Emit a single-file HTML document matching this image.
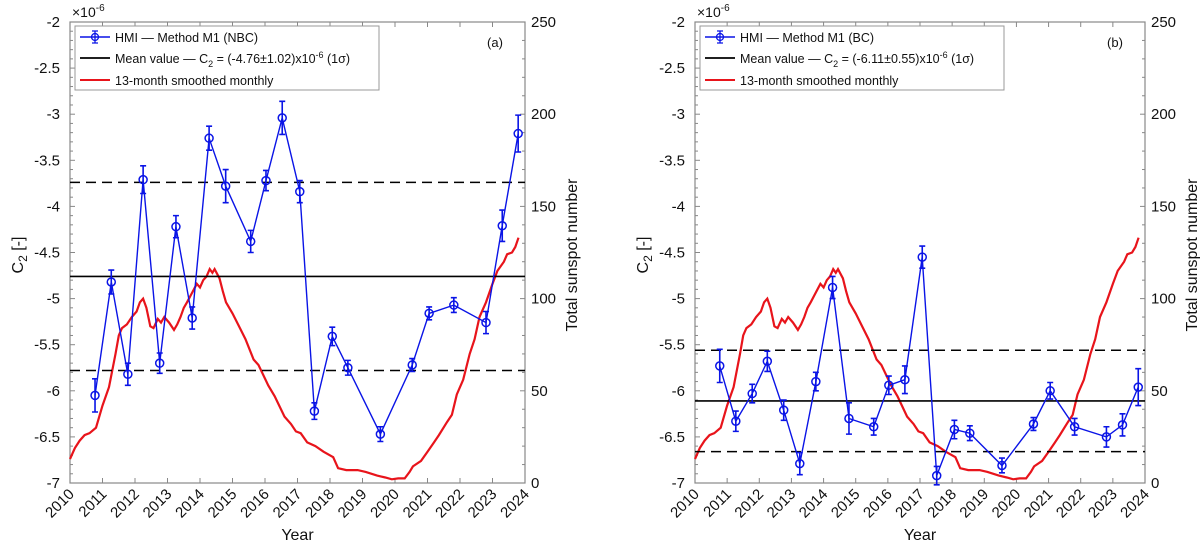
<!DOCTYPE html>
<html><head><meta charset="utf-8"><style>
body{margin:0;background:#fff}
svg{display:block;font-family:"Liberation Sans",Arial,sans-serif}
</style></head><body>
<svg id="chart" width="1200" height="545" viewBox="0 0 1200 545" xmlns="http://www.w3.org/2000/svg"></svg>
<script>
const years = [2010.77,2011.27,2011.78,2012.25,2012.76,2013.26,2013.76,2014.28,2014.79,2015.56,2016.03,2016.53,2017.07,2017.52,2018.07,2018.55,2019.55,2020.53,2021.05,2021.81,2022.8,2023.3,2023.79];
const c2NBC = [-6.05,-4.82,-5.82,-3.71,-5.70,-4.22,-5.21,-3.26,-3.78,-4.38,-3.72,-3.04,-3.84,-6.22,-5.41,-5.75,-6.47,-5.72,-5.16,-5.07,-5.26,-4.21,-3.21];
const errNBC = [0.18,0.13,0.12,0.15,0.11,0.12,0.12,0.13,0.18,0.12,0.11,0.18,0.12,0.09,0.10,0.08,0.08,0.07,0.07,0.08,0.12,0.17,0.20];
const c2BC = [-5.73,-6.33,-6.03,-5.68,-6.21,-6.79,-5.90,-4.88,-6.30,-6.39,-5.94,-5.88,-4.55,-6.92,-6.42,-6.46,-6.81,-6.36,-6.00,-6.39,-6.50,-6.37,-5.96];
const errBC = [0.18,0.11,0.10,0.11,0.11,0.12,0.10,0.12,0.17,0.09,0.10,0.15,0.12,0.10,0.10,0.08,0.08,0.07,0.09,0.09,0.11,0.12,0.20];
const meanNBC = -4.76, sdNBC = 1.02;
const meanBC = -6.11, sdBC = 0.55;
const ssnYears = [2010.0,2010.15,2010.3,2010.45,2010.6,2010.8,2011.0,2011.2,2011.4,2011.5,2011.6,2011.75,2011.9,2012.05,2012.15,2012.25,2012.35,2012.47,2012.57,2012.7,2012.8,2012.9,2013.05,2013.2,2013.3,2013.4,2013.5,2013.6,2013.75,2013.9,2014.0,2014.1,2014.2,2014.3,2014.38,2014.45,2014.6,2014.7,2014.8,2015.0,2015.2,2015.4,2015.65,2015.8,2016.1,2016.3,2016.6,2016.8,2016.95,2017.1,2017.3,2017.55,2017.8,2018.1,2018.25,2018.5,2018.85,2019.1,2019.45,2019.7,2019.9,2020.1,2020.3,2020.45,2020.55,2020.8,2021.0,2021.2,2021.35,2021.6,2021.75,2021.9,2022.1,2022.3,2022.45,2022.6,2022.8,2023.0,2023.15,2023.35,2023.45,2023.6,2023.7,2023.8];
const ssn = [13,19,23,26,27,30,42,52,70,80,84,86,90,93,98,100,95,85,84,89,87,90,87,83,86,90,95,98,103,108,106,110,112,116,114,116,111,104,98,92,85,78,67,64,53,47,36,32,28,27,22,20,17,14,8,7,7,6,4,3,2,2.5,2.5,6,9,12,17,22,26,33,37,48,56,70,78,90,98,108,115,120,124,125,128,133];
const yTicks = [-2,-2.5,-3,-3.5,-4,-4.5,-5,-5.5,-6,-6.5,-7];
const ssnTicks = [0,50,100,150,200,250];
const xTicks = [2010,2011,2012,2013,2014,2015,2016,2017,2018,2019,2020,2021,2022,2023,2024];

const svg = document.getElementById('chart');
const NS = 'http://www.w3.org/2000/svg';
function mk(tag, attrs, parent, text){
  const e = document.createElementNS(NS, tag);
  for (const k in attrs) e.setAttribute(k, attrs[k]);
  if (text !== undefined) e.textContent = text;
  (parent||svg).appendChild(e);
  return e;
}

function panel(x0, x1, vals, errs, mean, sd, tag, label){
  const top = 22, bot = 483;
  const X = y => x0 + (y - 2010) / 14 * (x1 - x0);
  const Y = v => top + (-2 - v) / 5 * (bot - top);
  const YS = s => bot - s / 250 * (bot - top);
  const g = mk('g', {});
  
  
  const box = mk('rect', {x:x0, y:top, width:x1-x0, height:bot-top, fill:'none', stroke:'#888', 'stroke-width':1.2}, g);
  
  
  for (let v = -2; v >= -7.001; v -= 0.1) {
    const yy = Y(v);
    const major = Math.abs(v*2 - Math.round(v*2)) < 1e-6;
    mk('line', {x1:x0, x2:x0+(major?5:3), y1:yy, y2:yy, stroke:'#888'}, g);
  }
  yTicks.forEach(v => {
    const t = mk('text', {x:x0-10, y:Y(v)+5, 'text-anchor':'end', 'font-size':15, fill:'#111'}, g, String(v));
    
    
  });
  for (let s = 0; s <= 250; s += 10) {
    const yy = YS(s);
    mk('line', {x1:x1, x2:x1-(s%50===0?5:3), y1:yy, y2:yy, stroke:'#888'}, g);
  }
  ssnTicks.forEach(s => {
    const t = mk('text', {x:x1+6, y:YS(s)+5, 'font-size':15, fill:'#111'}, g, String(s));
    
    
  });
  xTicks.forEach(yr => {
    const xx = X(yr);
    mk('line', {x1:xx, x2:xx, y1:bot, y2:bot-5, stroke:'#888'}, g);
    mk('line', {x1:xx, x2:xx, y1:top, y2:top+5, stroke:'#888'}, g);
    const t = mk('text', {x:xx+5, y:bot+12, 'text-anchor':'end', 'font-size':15, fill:'#111', transform:`rotate(-45 ${xx+5} ${bot+12})`}, g, String(yr));
    
    
  });
  const xt = mk('text', {x:(x0+x1)/2, y:540, 'text-anchor':'middle', 'font-size':16, fill:'#111'}, g, 'Year');
  
  
  const yt = mk('text', {x:0, y:0, 'text-anchor':'middle', 'font-size':16, fill:'#111', transform:`translate(${x0-47},255) rotate(-90)`}, g);
  
  
  mk('tspan', {}, yt, 'C');
  mk('tspan', {dy:4, 'font-size':12}, yt, '2');
  mk('tspan', {dy:-4}, yt, ' [-]');
  const rt = mk('text', {x:0, y:0, 'text-anchor':'middle', 'font-size':16, fill:'#111', transform:`translate(${x1+52},255) rotate(-90)`}, g, 'Total sunspot number');
  
  
  const ex = mk('text', {x:x0+2, y:17, 'font-size':14, fill:'#111'}, g);
  
  
  mk('tspan', {}, ex, '×10');
  mk('tspan', {dy:-6, 'font-size':10}, ex, '-6');
  const rp = ssnYears.map((yr,i) => `${i?'L':'M'}${X(yr).toFixed(1)},${YS(ssn[i]).toFixed(1)}`).join('');
  const red = mk('path', {d:rp, fill:'none', stroke:'#e8141b', 'stroke-width':2.2}, g);
  
  
  const ml = mk('line', {x1:x0, x2:x1, y1:Y(mean), y2:Y(mean), stroke:'#000', 'stroke-width':1.6}, g);
  
  
  [mean+sd, mean-sd].forEach(v => {
    const d = mk('line', {x1:x0, x2:x1, y1:Y(v), y2:Y(v), stroke:'#000', 'stroke-width':1.5, 'stroke-dasharray':'10,6'}, g);
    
    
  });
  const bp = years.map((yr,i) => `${i?'L':'M'}${X(yr).toFixed(1)},${Y(vals[i]).toFixed(1)}`).join('');
  const bl = mk('path', {d:bp, fill:'none', stroke:'#0a14e6', 'stroke-width':1.4}, g);
  
  
  years.forEach((yr,i) => {
    const xx = X(yr), yy = Y(vals[i]), y1 = Y(vals[i]+errs[i]), y2 = Y(vals[i]-errs[i]);
    const eb = mk('path', {d:`M${xx},${y1}L${xx},${y2}M${xx-3},${y1}L${xx+3},${y1}M${xx-3},${y2}L${xx+3},${y2}`, stroke:'#0a14e6', 'stroke-width':1.6, fill:'none'}, g);
    
    
    const c = mk('circle', {cx:xx, cy:yy, r:4, fill:'none', stroke:'#0a14e6', 'stroke-width':1.5}, g);
    
    
  });
  const lg = mk('g', {}, g);
  
  
  mk('rect', {x:x0+5, y:26, width:304, height:64, fill:'#fff', stroke:'#999', 'stroke-width':1}, lg);
  const lx = x0+10;
  mk('line', {x1:lx, x2:lx+30, y1:37, y2:37, stroke:'#0a14e6', 'stroke-width':1.4}, lg);
  mk('circle', {cx:lx+15, cy:37, r:3.5, fill:'none', stroke:'#0a14e6', 'stroke-width':1.3}, lg);
  mk('path', {d:`M${lx+15},31L${lx+15},43M${lx+12},31L${lx+18},31M${lx+12},43L${lx+18},43`, stroke:'#0a14e6', 'stroke-width':1.3}, lg);
  mk('text', {x:lx+35, y:42, 'font-size':12.5, fill:'#111'}, lg, 'HMI — Method M1 (' + label + ')');
  mk('line', {x1:lx, x2:lx+30, y1:58, y2:58, stroke:'#000', 'stroke-width':1.8}, lg);
  const mt = mk('text', {x:lx+35, y:63, 'font-size':12.5, fill:'#111'}, lg);
  mk('tspan', {}, mt, 'Mean value — C');
  mk('tspan', {dy:4, 'font-size':9}, mt, '2');
  mk('tspan', {dy:-4}, mt, ` = (${mean.toFixed(2)}±${sd.toFixed(2)})x10`);
  mk('tspan', {dy:-5, 'font-size':9}, mt, '-6');
  mk('tspan', {dy:5}, mt, ' (1σ)');
  mk('line', {x1:lx, x2:lx+30, y1:80, y2:80, stroke:'#e8141b', 'stroke-width':2}, lg);
  mk('text', {x:lx+35, y:85, 'font-size':12.5, fill:'#111'}, lg, '13-month smoothed monthly');
  const pl = mk('text', {x:x1-30, y:47, 'font-size':13, fill:'#111', 'text-anchor':'middle'}, g, '(' + tag + ')');
  
  
}
panel(70, 525, c2NBC, errNBC, meanNBC, sdNBC, 'a', 'NBC');
panel(695, 1145, c2BC, errBC, meanBC, sdBC, 'b', 'BC');
</script>
</body></html>
